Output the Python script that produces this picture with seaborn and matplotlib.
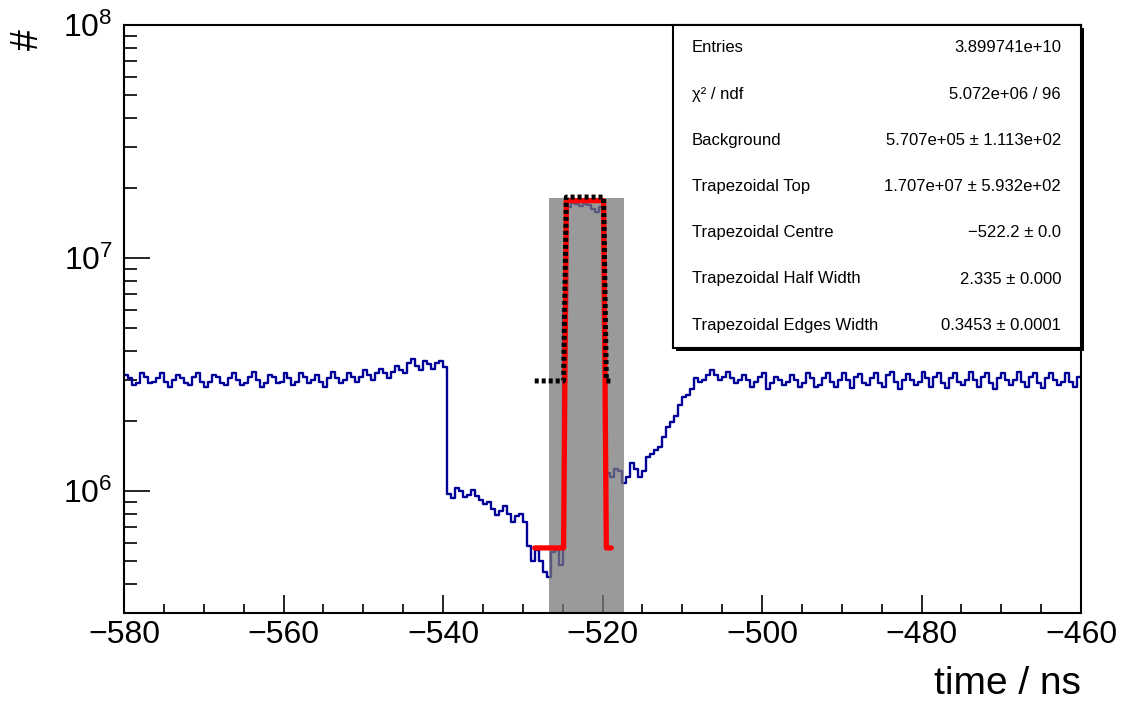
import numpy as np
import seaborn as sns
import matplotlib.pyplot as plt
from matplotlib.ticker import MultipleLocator, LogLocator, NullFormatter
from matplotlib.patches import Rectangle

# histogram: 0.5 ns bins from -580 to -460, counts in units of 1e6
bin_start = -580.0
bin_width = 0.5
counts_1e6 = [
    # -580 .. -545
    3.15, 3.05, 2.85, 2.9, 3.2, 3.1, 2.9, 2.95, 3.05, 3.2, 2.95, 2.8, 3.0, 3.15, 3.05, 2.9, 2.85, 3.1, 3.2, 2.95,
    2.8, 2.95, 3.15, 3.1, 2.9, 2.85, 3.05, 3.2, 3.0, 2.85, 2.9, 3.1, 3.25, 3.0, 2.8, 2.9, 3.15, 3.1, 2.9, 2.95,
    3.2, 3.05, 2.85, 2.95, 3.2, 3.1, 2.9, 3.0, 3.15, 2.95, 2.8, 3.05, 3.25, 3.05, 2.9, 3.0, 3.2, 3.1, 2.95, 3.1,
    3.3, 3.15, 3.0, 3.2, 3.35, 3.2, 3.05, 3.25, 3.45, 3.3,
    # -545 .. -539.5
    3.2, 3.55, 3.7, 3.45, 3.3, 3.6, 3.5, 3.35, 3.55, 3.6, 3.4,
    # -539.5 .. -525
    0.97,
    0.93, 1.03, 1.0, 0.94, 0.96, 1.01, 0.95, 0.92, 0.88, 0.9, 0.84, 0.79, 0.82, 0.86,
    0.8, 0.74, 0.78, 0.8, 0.74, 0.58, 0.5, 0.56, 0.5, 0.45, 0.43, 0.55, 0.56, 0.48,
    # -525 .. -519 (peak)
    6.0, 16.5, 17.2, 17.0, 16.8, 17.1, 16.9, 16.2, 15.8, 16.6, 5.0, 1.2,
    # -519 .. -517
    1.15, 1.25, 1.22, 1.08,
    # -517 .. -493
    1.15, 1.32, 1.25, 1.15, 1.22, 1.4, 1.45, 1.5, 1.55, 1.7,
    1.88, 1.98, 2.1, 2.35, 2.53, 2.58, 2.75, 3.05, 2.95, 3.0,
    3.15, 3.31, 3.15, 3.0, 3.1, 3.24, 3.05, 2.9, 3.0, 3.14,
    3.0, 2.79, 2.95, 3.1, 3.2, 2.75, 2.9, 3.08, 3.0, 2.85,
    2.95, 3.14, 3.0, 2.8, 2.9, 3.2, 3.05, 2.8,
    # -493 .. -460
    2.85, 3.05, 3.2, 2.95, 2.8, 3.0, 3.22, 3.0, 2.78, 3.1, 3.18, 2.9,
    2.85, 3.05, 3.2, 2.92, 2.8, 3.15, 3.25, 2.95, 2.75, 3.0, 3.18, 3.0,
    2.85, 2.95, 3.24, 3.05, 2.8, 3.1, 3.2, 2.9, 2.78, 3.05, 3.22, 2.95,
    2.85, 3.0, 3.25, 3.0, 2.8, 3.1, 3.2, 2.92, 2.75, 3.05, 3.22, 3.0,
    2.85, 3.0, 3.25, 2.95, 2.8, 3.1, 3.2, 2.9, 2.78, 3.05, 3.22, 3.0,
    2.85, 2.95, 3.2, 2.95, 2.8, 3.1,
]
assert len(counts_1e6) == 240, len(counts_1e6)

# trapezoid fit (red) and start values (black dashed)
fit_bkg = 5.707e5
fit_top = 1.707e7
fit_centre = -522.2
fit_half_width = 2.335
fit_edge_width = 0.3453
fit_range = (-528.5, -518.9)

start_bkg = 2.97e6
start_top = 1.53e7

# grey fit window
window_x = (-526.7, -517.3)
window_top = 1.81e7

stats_labels = ["Entries", "\u03c7\u00b2 / ndf", "Background", "Trapezoidal Top",
                "Trapezoidal Centre", "Trapezoidal Half Width", "Trapezoidal Edges Width"]
stats_values = ["3.899741e+10", "5.072e+06 / 96", "5.707e+05 \u00b1 1.113e+02",
                "1.707e+07 \u00b1 5.932e+02", "\u2212522.2 \u00b1 0.0",
                "2.335 \u00b1 0.000", "0.3453 \u00b1 0.0001"]


def trapezoid(bkg, top):
    lo, hi = fit_range
    c, hw, ew = fit_centre, fit_half_width, fit_edge_width
    xs = [lo, c - hw - ew, c - hw, c + hw, c + hw + ew, hi]
    ys = [bkg, bkg, bkg + top, bkg + top, bkg, bkg]
    return xs, ys


sns.set_theme(style="ticks")
plt.rcParams['font.family'] = ['Liberation Sans', 'DejaVu Sans']
plt.rcParams['mathtext.fontset'] = 'custom'
plt.rcParams['mathtext.rm'] = 'Liberation Sans'
plt.rcParams['mathtext.default'] = 'regular'
plt.rcParams['text.color'] = 'black'
plt.rcParams['axes.labelcolor'] = 'black'
plt.rcParams['xtick.color'] = 'black'
plt.rcParams['ytick.color'] = 'black'

fig = plt.figure(figsize=(11.24, 7.07), dpi=100)
ax = fig.add_axes([124 / 1124, 1 - 613 / 707, 957 / 1124, 588 / 707])

edges = bin_start + bin_width * np.arange(len(counts_1e6) + 1)
heights = np.array(counts_1e6 + [counts_1e6[-1]]) * 1e6
sns.lineplot(x=edges, y=heights, drawstyle='steps-post', estimator=None, sort=False,
             color='#000099', lw=1.7, ax=ax, zorder=1)

ax.fill_between(window_x, 1e5, window_top, color='#787878', alpha=0.75, lw=0, zorder=2)

rx, ry = trapezoid(fit_bkg, fit_top)
sns.lineplot(x=rx, y=ry, estimator=None, sort=False, color='red', lw=3.8, ax=ax, zorder=3)
bx, by = trapezoid(start_bkg, start_top)
sns.lineplot(x=bx, y=by, estimator=None, sort=False, color='black', lw=3.6,
             linestyle=(0, (0.8, 0.6)), ax=ax, zorder=4)

ax.set_yscale('log')
ax.set_xlim(-580, -460)
ax.set_ylim(3e5, 1e8)
ax.xaxis.set_major_locator(MultipleLocator(20))
ax.xaxis.set_minor_locator(MultipleLocator(5))
ax.yaxis.set_minor_locator(LogLocator(base=10, subs=np.arange(2, 10)))
ax.yaxis.set_minor_formatter(NullFormatter())

ax.tick_params(which='both', direction='in', top=False, right=False, width=1.2,
               colors='black', labelcolor='black')
ax.tick_params(axis='x', which='major', length=13, labelsize=23, pad=5)
ax.tick_params(axis='x', which='minor', length=6.5)
ax.tick_params(axis='y', which='major', length=19, labelsize=23, pad=8)
ax.tick_params(axis='y', which='minor', length=9.5)
for sp in ax.spines.values():
    sp.set_linewidth(1.5)
    sp.set_color('black')
    sp.set_visible(True)

ax.set_xlabel('time / ns', fontsize=28, loc='right', color='black')
ax.xaxis.set_label_coords(1.0, -0.09)
ax.set_ylabel('#', fontsize=27, loc='top', color='black')
ax.yaxis.set_label_coords(-0.082, 0.993)

# stats box
bx0, by0 = 673 / 1124, 1 - 348 / 707
bw, bh = (1081 - 673) / 1124, (348 - 25) / 707
fig.add_artist(Rectangle((bx0 + 3 / 1124, by0 - 3 / 707), bw, bh, transform=fig.transFigure,
                         facecolor='black', edgecolor='none', zorder=5))
fig.add_artist(Rectangle((bx0, by0), bw, bh, transform=fig.transFigure,
                         facecolor='white', edgecolor='black', lw=1.5, zorder=6))
for i, (lab, val) in enumerate(zip(stats_labels, stats_values)):
    yy = 1 - (48 + 46.2 * i) / 707
    fig.text(692 / 1124, yy, lab, fontsize=12, ha='left', va='center', zorder=7)
    fig.text(1061 / 1124, yy, val, fontsize=12, ha='right', va='center', zorder=7)

fig.savefig('out.png', dpi=100)
